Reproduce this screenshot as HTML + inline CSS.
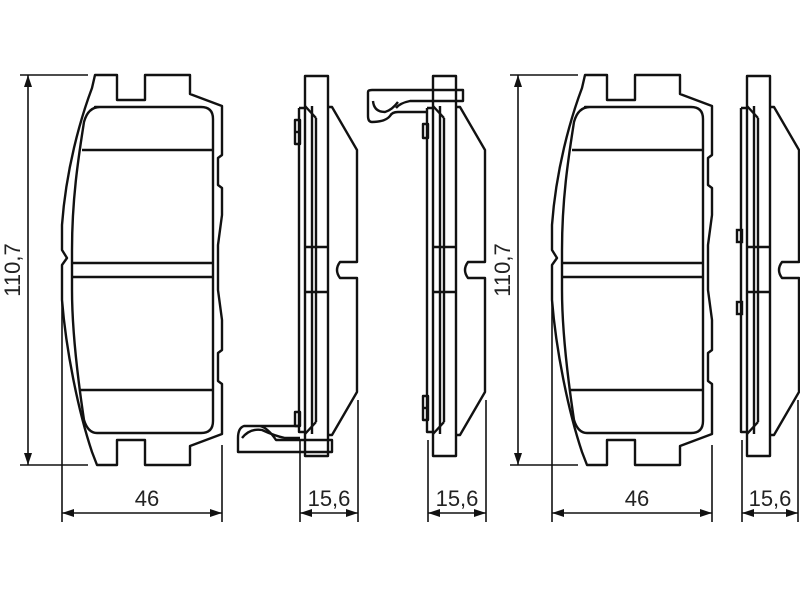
<!DOCTYPE html>
<html><head><meta charset="utf-8"><style>
html,body{margin:0;padding:0;background:#fff;}
svg{display:block}
text{font-family:"Liberation Sans",sans-serif;font-size:22px;fill:#222}
</style></head><body>
<svg width="800" height="600" viewBox="0 0 800 600" xmlns="http://www.w3.org/2000/svg">
<defs>
<marker id="a" markerWidth="12" markerHeight="8" refX="12" refY="4" orient="auto-start-reverse" markerUnits="userSpaceOnUse"><path d="M0,0 L12,4 L0,8 z" fill="#111"/></marker>
<g id="pad" fill="none" stroke="#111" stroke-width="2.4" stroke-linejoin="round">
<path d="M95,75 L117,75 L117,100 L145,100 L145,75 L190,75 L190,94 L222,106 L222,155 L218,158 L218,185 L222,188 L222,215 L218,245 L218,290 L222,320 L222,350 L218,353 L218,381 L222,384 L222,434 L190,446 L190,465 L145,465 L145,440 L117,440 L117,465 L97,465 L92,452 C78,410 66,350 62,300 L62,265 L67,258 L62,250 L62,225 C66,170 80,120 92,88 Z"/>
<path d="M95,107 L201,107 Q213,107 213,119 L213,421 Q213,433 201,433 L97,433 Q88,433 84,420 C78,380 72,330 72,290 L72,250 C72,200 78,160 84,122 Q88,107 100,107 Z"/>
<line x1="82" y1="150" x2="213" y2="150"/>
<line x1="72" y1="263" x2="213" y2="263"/>
<line x1="72" y1="277" x2="213" y2="277"/>
<line x1="80" y1="390" x2="213" y2="390"/>
</g>
<g id="side" fill="none" stroke="#111" stroke-width="2.4" stroke-linejoin="round">
<rect x="305" y="76" width="23" height="380"/>
<line x1="312" y1="106" x2="312" y2="434"/>
<line x1="316" y1="118" x2="316" y2="422"/>
<path d="M305,106 L316,118"/>
<path d="M305,434 L316,422"/>
<path d="M299,108 L305,108 M299,108 L299,432 L305,432"/>
<line x1="305" y1="247" x2="328" y2="247"/>
<line x1="305" y1="292" x2="328" y2="292"/>
<path d="M328,107 L332,107 L357,150 L357,262 L340,262 Q334,270 340,278 L357,278 L357,392 L332,435 L328,435"/>
</g>
</defs>

<use href="#pad"/>
<g stroke="#111" stroke-width="1.6" fill="none">
<line x1="20" y1="75" x2="88" y2="75"/>
<line x1="20" y1="465" x2="88" y2="465"/>
<line x1="28" y1="75" x2="28" y2="465" marker-start="url(#a)" marker-end="url(#a)"/>
<line x1="62" y1="300" x2="62" y2="522"/>
<line x1="222" y1="445" x2="222" y2="522"/>
<line x1="62" y1="513" x2="222" y2="513" marker-start="url(#a)" marker-end="url(#a)"/>
</g>
<text x="147" y="506" text-anchor="middle">46</text>
<text transform="translate(20,270) rotate(-90)" text-anchor="middle">110,7</text>

<g transform="translate(490,0)">
<use href="#pad"/>
<g stroke="#111" stroke-width="1.6" fill="none">
<line x1="20" y1="75" x2="88" y2="75"/>
<line x1="20" y1="465" x2="88" y2="465"/>
<line x1="28" y1="75" x2="28" y2="465" marker-start="url(#a)" marker-end="url(#a)"/>
<line x1="62" y1="300" x2="62" y2="522"/>
<line x1="222" y1="445" x2="222" y2="522"/>
<line x1="62" y1="513" x2="222" y2="513" marker-start="url(#a)" marker-end="url(#a)"/>
</g>
<text x="147" y="506" text-anchor="middle">46</text>
<text transform="translate(20,270) rotate(-90)" text-anchor="middle">110,7</text>
</g>

<use href="#side"/>
<g fill="none" stroke="#111" stroke-width="2.4" stroke-linejoin="round">
<rect x="295" y="120" width="5" height="24"/>
<line x1="295" y1="132" x2="300" y2="132"/>
<rect x="295" y="412" width="5" height="14"/>
<path d="M300,426 L244,426 Q238,428 238,438 L238,452 L332,452 L332,440 L300,440 L276,440 Q268,428 260,426"/>
<path d="M242,438 Q250,428 262,430 Q275,436 285,438 L300,438"/>
</g>
<g stroke="#111" stroke-width="1.6" fill="none">
<line x1="300" y1="440" x2="300" y2="522"/>
<line x1="358" y1="400" x2="358" y2="522"/>
<line x1="300" y1="513" x2="358" y2="513" marker-start="url(#a)" marker-end="url(#a)"/>
</g>
<text x="329" y="506" text-anchor="middle">15,6</text>

<g transform="translate(128,0)"><use href="#side"/></g>
<g fill="none" stroke="#111" stroke-width="2.4" stroke-linejoin="round">
<rect x="423" y="124" width="5" height="14"/>
<rect x="423" y="396" width="5" height="24"/>
<line x1="423" y1="408" x2="428" y2="408"/>
<path d="M428,112 L398,112 Q392,112 390,116 Q385,122 372,122 Q368,122 368,116 L368,92 Q368,90 372,90 L463,90 L463,101 L433,101 L410,101 Q400,103 396,108"/>
<path d="M373,101 Q374,112 385,112 Q392,110 398,102"/>
</g>
<g stroke="#111" stroke-width="1.6" fill="none">
<line x1="428" y1="440" x2="428" y2="522"/>
<line x1="486" y1="400" x2="486" y2="522"/>
<line x1="428" y1="513" x2="486" y2="513" marker-start="url(#a)" marker-end="url(#a)"/>
</g>
<text x="457" y="506" text-anchor="middle">15,6</text>

<g transform="translate(442,0)"><use href="#side"/></g>
<g fill="none" stroke="#111" stroke-width="2.4">
<rect x="737" y="230" width="5" height="12"/>
<rect x="737" y="302" width="5" height="12"/>
</g>
<g stroke="#111" stroke-width="1.6" fill="none">
<line x1="742" y1="440" x2="742" y2="522"/>
<line x1="798" y1="400" x2="798" y2="522"/>
<line x1="742" y1="513" x2="798" y2="513" marker-start="url(#a)" marker-end="url(#a)"/>
</g>
<text x="770" y="506" text-anchor="middle">15,6</text>
</svg>
</body></html>
